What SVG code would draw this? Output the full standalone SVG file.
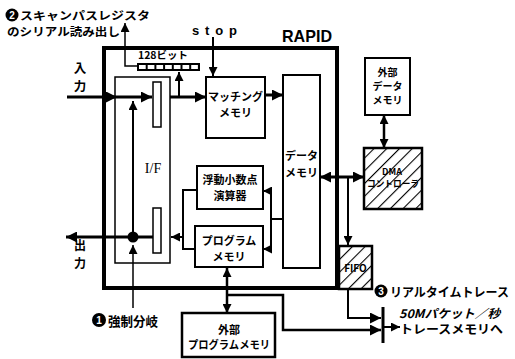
<svg xmlns="http://www.w3.org/2000/svg" width="515" height="359" viewBox="0 0 515 359">
<style>
.jp{font-family:"Noto Sans CJK JP","Noto Sans",sans-serif;font-weight:bold;fill:#000}
.box{fill:#fff;stroke:#000;stroke-width:2}
.thin{fill:none;stroke:#000;stroke-width:1.5}
.med{fill:none;stroke:#000;stroke-width:2}
.thick{fill:none;stroke:#000;stroke-width:3}
.num{font-family:"Liberation Sans",sans-serif;font-weight:bold;fill:#fff;font-size:10px}
</style>
<defs>
<marker id="ah" markerUnits="userSpaceOnUse" markerWidth="11" markerHeight="11" refX="11" refY="5.5" orient="auto-start-reverse">
<path d="M0,0 L11,5.5 L0,11 z" fill="#000"/>
</marker>
<marker id="as" markerUnits="userSpaceOnUse" markerWidth="9" markerHeight="9" refX="9" refY="4.5" orient="auto-start-reverse">
<path d="M0,0 L9,4.5 L0,9 z" fill="#000"/>
</marker>
<pattern id="hatch" patternUnits="userSpaceOnUse" width="9" height="9" patternTransform="rotate(45)">
<rect width="9" height="9" fill="#fff"/>
<line x1="0" y1="0" x2="0" y2="9" stroke="#000" stroke-width="2.2"/>
</pattern>
</defs>

<g id="labels">
<circle cx="12" cy="15" r="6.5" fill="#000"/>
<text class="num" x="12" y="19" text-anchor="middle">2</text>
<text class="jp" x="20" y="19.5" font-size="11.3" textLength="130" lengthAdjust="spacingAndGlyphs">スキャンパスレジスタ</text>
<text class="jp" x="7" y="36" font-size="11.3" textLength="113" lengthAdjust="spacingAndGlyphs">のシリアル読み出し</text>
<text x="192" y="35" font-family="Liberation Sans,sans-serif" font-weight="bold" font-size="13" textLength="45">stop</text>
<text x="282" y="42" font-family="Liberation Sans,sans-serif" font-weight="bold" font-size="17" textLength="50" lengthAdjust="spacingAndGlyphs">RAPID</text>
<text class="jp" x="80" y="73" font-size="12.5" text-anchor="middle">入</text>
<text class="jp" x="80" y="91" font-size="12.5" text-anchor="middle">力</text>
<text class="jp" x="80" y="250" font-size="12" text-anchor="middle">出</text>
<text class="jp" x="80" y="268" font-size="12" text-anchor="middle">力</text>
<circle cx="99" cy="320" r="7" fill="#000"/>
<text class="num" x="99" y="324" text-anchor="middle">1</text>
<text class="jp" x="108" y="326" font-size="13" textLength="50" lengthAdjust="spacingAndGlyphs">強制分岐</text>
<circle cx="381" cy="291" r="6.5" fill="#000"/>
<text class="num" x="381" y="295" text-anchor="middle">3</text>
<text class="jp" x="390" y="297" font-size="12.5" textLength="119" lengthAdjust="spacingAndGlyphs">リアルタイムトレース</text>
<text class="jp" x="399" y="318" font-size="12" font-style="italic" textLength="101" lengthAdjust="spacingAndGlyphs">50Mパケット／秒</text>
<text class="jp" x="400" y="334" font-size="12" textLength="103" lengthAdjust="spacingAndGlyphs">トレースメモリへ</text>
<text class="jp" x="138" y="59" font-size="10" textLength="50" lengthAdjust="spacingAndGlyphs">128ビット</text>
</g>

<g id="rapid">
<rect x="104" y="48" width="233" height="240" fill="none" stroke="#000" stroke-width="4"/>
</g>

<g id="if">
<rect x="115" y="77" width="55" height="186" class="thin"/>
<rect x="153" y="82" width="8" height="45" fill="#fff" stroke="#000" stroke-width="1.5"/>
<rect x="153" y="208" width="8" height="45" fill="#fff" stroke="#000" stroke-width="1.5"/>
<text x="153" y="173" font-family="Liberation Serif,serif" font-size="14" text-anchor="middle">I/F</text>
</g>

<g id="register">
<rect x="137" y="63" width="63" height="8" fill="#000"/>
<rect x="139" y="65" width="6.7" height="4" fill="#fff"/>
<rect x="147.7" y="65" width="6.7" height="4" fill="#fff"/>
<rect x="156.4" y="65" width="6.7" height="4" fill="#fff"/>
<rect x="165.1" y="65" width="6.7" height="4" fill="#fff"/>
<rect x="173.8" y="65" width="6.7" height="4" fill="#fff"/>
<rect x="182.5" y="65" width="6.7" height="4" fill="#fff"/>
<rect x="191.2" y="65" width="6.7" height="4" fill="#fff"/>
</g>

<g id="matching">
<rect x="206" y="77" width="59" height="61" class="box"/>
<text class="jp" x="235.5" y="101" font-size="11" text-anchor="middle">マッチング</text>
<text class="jp" x="235.5" y="117" font-size="11" text-anchor="middle">メモリ</text>
</g>

<g id="datamem">
<rect x="283" y="75" width="37" height="193" class="box"/>
<text class="jp" x="301.5" y="160" font-size="11" text-anchor="middle">データ</text>
<text class="jp" x="301.5" y="177" font-size="11" text-anchor="middle">メモリ</text>
</g>

<g id="fpu">
<rect x="197" y="166" width="66" height="43" class="box"/>
<text class="jp" x="230" y="184" font-size="11" text-anchor="middle">浮動小数点</text>
<text class="jp" x="230" y="200" font-size="11" text-anchor="middle">演算器</text>
</g>

<g id="progmem">
<rect x="195" y="226" width="68" height="41" class="box"/>
<text class="jp" x="229" y="245" font-size="11" text-anchor="middle">プログラム</text>
<text class="jp" x="229" y="261" font-size="11" text-anchor="middle">メモリ</text>
</g>

<g id="extdata">
<rect x="365" y="58" width="45" height="57" class="box"/>
<text class="jp" x="387.5" y="76" font-size="10" text-anchor="middle">外部</text>
<text class="jp" x="387.5" y="90" font-size="10" text-anchor="middle">データ</text>
<text class="jp" x="387.5" y="104" font-size="10" text-anchor="middle">メモリ</text>
</g>

<g id="dma">
<rect x="364" y="148" width="58" height="61" fill="url(#hatch)" stroke="#000" stroke-width="2.5"/>
<text class="jp" x="392" y="175" font-size="9" text-anchor="middle">DMA</text>
<text class="jp" x="393" y="187" font-size="9" text-anchor="middle" textLength="52" lengthAdjust="spacingAndGlyphs">コントローラ</text>
</g>

<g id="fifo">
<rect x="339" y="246" width="33" height="43" fill="url(#hatch)" stroke="#000" stroke-width="2.5"/>
<text class="jp" x="355.5" y="272" font-size="10" text-anchor="middle">FIFO</text>
</g>

<g id="extprog">
<rect x="182" y="313" width="93" height="44" fill="#fff" stroke="#000" stroke-width="2.5"/>
<text class="jp" x="229" y="334" font-size="11" text-anchor="middle">外部</text>
<text class="jp" x="229" y="349" font-size="11" text-anchor="middle" textLength="82" lengthAdjust="spacingAndGlyphs">プログラムメモリ</text>
</g>

<g id="connectors">
<line x1="67" y1="97" x2="117" y2="97" class="thick" marker-end="url(#ah)"/>
<line x1="117" y1="97" x2="152" y2="97" class="thick" marker-end="url(#ah)"/>
<line x1="133" y1="237" x2="133" y2="101" class="med" marker-end="url(#as)"/>
<line x1="153" y1="237" x2="66" y2="237" class="thick" marker-end="url(#ah)"/>
<circle cx="133" cy="237" r="5.5" fill="#000"/>
<line x1="133" y1="308" x2="133" y2="245" class="thin" marker-end="url(#as)"/>
<polyline points="137,66 125,66 125,23" class="thin" marker-end="url(#as)"/>
<line x1="170" y1="97" x2="206" y2="97" class="thick" marker-end="url(#ah)"/>
<line x1="179" y1="97" x2="179" y2="72" class="med" marker-end="url(#as)"/>
<line x1="213" y1="37" x2="213" y2="76" class="med" marker-end="url(#as)"/>
<line x1="265" y1="95" x2="283" y2="95" class="thick" marker-end="url(#ah)"/>
<polyline points="283,219 271,219" class="med"/>
<line x1="271" y1="190" x2="271" y2="250" class="med"/>
<line x1="271" y1="191" x2="263" y2="191" class="med" marker-end="url(#as)"/>
<line x1="271" y1="249" x2="263" y2="249" class="med" marker-end="url(#as)"/>
<polyline points="197,190 183,190 183,249 195,249" class="med"/>
<line x1="183" y1="237" x2="171" y2="237" class="med" marker-end="url(#as)"/>
<line x1="320" y1="177" x2="364" y2="177" class="thick" marker-start="url(#ah)" marker-end="url(#ah)"/>
<line x1="348" y1="177" x2="348" y2="245" class="med" marker-end="url(#as)"/>
<line x1="384" y1="115" x2="384" y2="148" stroke="#000" stroke-width="2.5" marker-start="url(#as)" marker-end="url(#as)"/>
<polyline points="348,289 348,318 381,318" class="med" marker-end="url(#ah)"/>
<polyline points="227,295 283,295 283,330 381,330" fill="none" stroke="#000" stroke-width="2.5" marker-end="url(#ah)"/>
<line x1="227" y1="268" x2="227" y2="313" stroke="#000" stroke-width="2.5" marker-start="url(#as)" marker-end="url(#as)"/>
<line x1="383" y1="307" x2="383" y2="343" stroke="#000" stroke-width="3"/>
<line x1="383" y1="327" x2="400" y2="327" class="med" marker-end="url(#as)"/>
</g>
</svg>
